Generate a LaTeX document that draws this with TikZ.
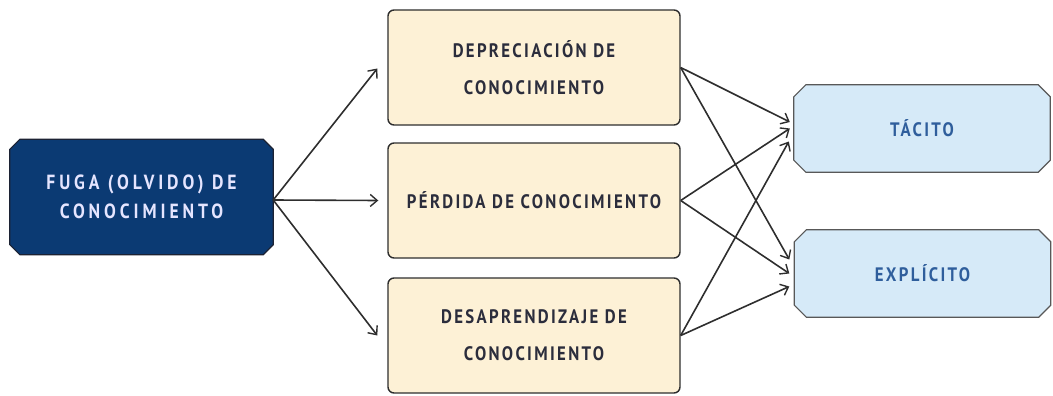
\documentclass[tikz,border=0pt]{standalone}
\usepackage{fontspec}
\usetikzlibrary{arrows.meta,calc,backgrounds}
\newfontfamily\lblfont[FakeStretch=0.86,LetterSpace=12]{PT Sans}
\newfontfamily\srcfont[FakeStretch=0.86,LetterSpace=19]{PT Sans}
\definecolor{navyfill}{HTML}{0B3A73}
\definecolor{navyline}{HTML}{1C2233}
\definecolor{creamfill}{HTML}{FDF1D6}
\definecolor{creamtext}{HTML}{2B2D3C}
\definecolor{bluefill}{HTML}{D6EAF8}
\definecolor{bluetext}{HTML}{2F5E9C}
\definecolor{edgegray}{HTML}{2E2E2E}
\tikzset{
  lbl/.style={font=\lblfont\bfseries\fontsize{19.5}{37}\selectfont, align=center, inner sep=0pt, rectangle},
  srcbox/.style={lbl, font=\srcfont\bfseries\fontsize{20.5}{29}\selectfont, text=white!90!blue,
     minimum width=263pt, minimum height=115pt},
  srcshape/.style={draw=navyline, line width=1.2pt, fill=navyfill},
  midbox/.style={lbl, rounded corners=6pt, draw=edgegray, line width=1.4pt, fill=creamfill,
     text=creamtext, minimum width=292pt, minimum height=115pt},
  outbox/.style={lbl, text=bluetext, minimum width=256pt, minimum height=87pt},
  outshape/.style={draw=edgegray!80, line width=1.2pt, fill=bluefill},
  conn/.style={draw=edgegray, line width=1.6pt, -{Straight Barb[length=7pt,width=12pt,line width=1.4pt]}},
}
% chamfered outline behind a named node: #1 node, #2 chamfer size, #3 style
\newcommand\chambox[3]{%
  \begin{scope}[on background layer]
  \path[#3] ($(#1.north west)+(#2,0)$) -- ($(#1.north east)+(-#2,0)$) -- ($(#1.north east)+(0,#2)$)
    -- ($(#1.south east)+(0,-#2)$) -- ($(#1.south east)+(-#2,0)$) -- ($(#1.south west)+(#2,0)$)
    -- ($(#1.south west)+(0,-#2)$) -- ($(#1.north west)+(0,#2)$) -- cycle;
  \end{scope}}
\begin{document}
\begin{tikzpicture}[x=1pt,y=-1pt]
\useasboundingbox (0,0) rectangle (1053,396);
\node[srcbox] (fuga) at (141.5,197) {FUGA (OLVIDO) DE\\CONOCIMIENTO};
\chambox{fuga}{10}{srcshape}
\node[midbox] (dep) at (534,67.5) {DEPRECIACIÓN DE\\CONOCIMIENTO};
\node[midbox] (per) at (534,200.5) {PÉRDIDA DE CONOCIMIENTO};
\node[midbox] (des) at (534,335.5) {DESAPRENDIZAJE DE\\CONOCIMIENTO};
\node[outbox] (tac) at (922,128.5) {TÁCITO};
\chambox{tac}{12}{outshape}
\node[outbox] (exp) at (922.5,273.5) {EXPLÍCITO};
\chambox{exp}{12}{outshape}
\coordinate (fo) at ($(fuga.east)+(0,3)$);
\draw[conn] (fo) -- ($(dep.west)+(-10,1)$);
\draw[conn] (fo) -- ($(per.west)+(-9,0)$);
\draw[conn] (fo) -- ($(des.west)+(-10,0)$);
\draw[conn] (dep.east) -- ($(tac.west)+(-4,-6.5)$);
\draw[conn] (per.east) -- ($(tac.west)+(-4,0)$);
\draw[conn] (des.east) -- ($(tac.west)+(-5,13)$);
\draw[conn] (dep.east) -- ($(exp.west)+(-5,-14)$);
\draw[conn] (per.east) -- ($(exp.west)+(-5,0)$);
\draw[conn] (des.east) -- ($(exp.west)+(-5,13)$);
\end{tikzpicture}
\end{document}
